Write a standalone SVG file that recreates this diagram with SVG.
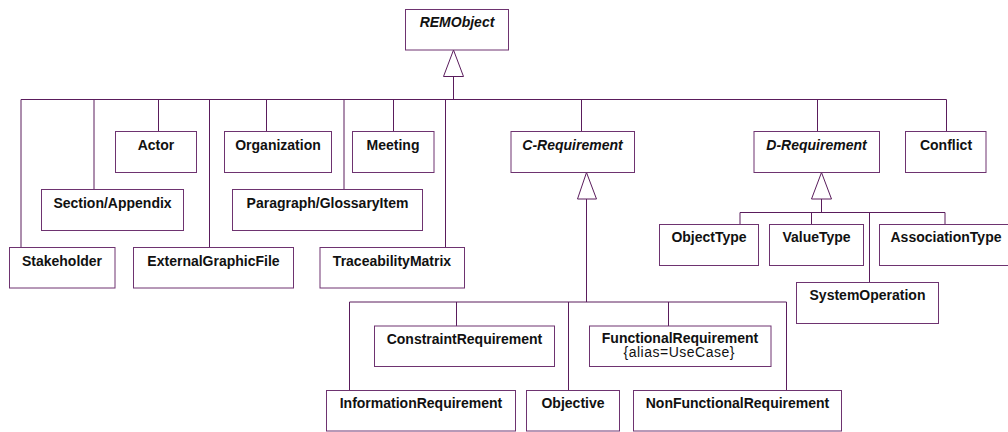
<svg xmlns="http://www.w3.org/2000/svg" width="1008" height="432" viewBox="0 0 1008 432">
<style>
.box{fill:#fff;stroke:#6e3370;stroke-width:1}
.ln{fill:none;stroke:#5a1c5c;stroke-width:1}
.tri{fill:#fff;stroke:#5a1c5c;stroke-width:1}
text{font-family:"Liberation Sans",Arial,sans-serif;font-size:14px;font-weight:bold;fill:#111;text-anchor:middle}
.it{font-style:italic}
.tag{font-weight:normal;font-size:14px}
</style>
<rect width="1008" height="432" fill="#fff"/>
<g id="connectors">
<polygon class="tri" points="453.5,50 443.5,76.5 463.5,76.5"/>
<path class="ln" d="M453.5 76.5V99.5M21 99.5H946.5M21 99.5V247.5M94 99.5V189.5M158.5 99.5V131.5M209.5 99.5V247.5M266.5 99.5V131.5M344 99.5V189.5M393.5 99.5V131.5M445.5 99.5V247.5M581.5 99.5V131.5M817.5 99.5V131.5M946.5 99.5V131.5"/>
<polygon class="tri" points="586.5,172.5 577.5,199 596.5,199"/>
<path class="ln" d="M586.5 199V302M349.5 302H786.5M349.5 302V390.5M456.5 302V326M568.5 302V390.5M668.5 302V326M786.5 302V390.5"/>
<polygon class="tri" points="821.5,172.5 811.5,199 831.5,199"/>
<path class="ln" d="M821.5 199V212.5M740 212.5H945M740 212.5V224.5M811.5 212.5V224.5M869.5 212.5V282.5M945 212.5V224.5"/>
</g>
<g id="REMObject"><rect class="box" x="405.5" y="9.5" width="103" height="40.5"/><text class="it" x="457" y="27">REMObject</text></g>
<g id="Actor"><rect class="box" x="115.5" y="131.5" width="81" height="41"/><text x="156" y="149.5">Actor</text></g>
<g id="Organization"><rect class="box" x="224.5" y="131.5" width="107" height="41"/><text x="278" y="149.5">Organization</text></g>
<g id="Meeting"><rect class="box" x="352.5" y="131.5" width="81.5" height="41"/><text x="393" y="149.5">Meeting</text></g>
<g id="C-Requirement"><rect class="box" x="511" y="131.5" width="123.5" height="41"/><text class="it" x="572.5" y="149.5">C-Requirement</text></g>
<g id="D-Requirement"><rect class="box" x="754" y="131.5" width="125.5" height="41"/><text class="it" x="816.5" y="149.5">D-Requirement</text></g>
<g id="Conflict"><rect class="box" x="905.5" y="131.5" width="80.5" height="41"/><text x="946" y="149.5">Conflict</text></g>
<g id="SectionAppendix"><rect class="box" x="41.5" y="189.5" width="142" height="41"/><text x="112.5" y="207.5">Section/Appendix</text></g>
<g id="ParagraphGlossaryItem"><rect class="box" x="232.5" y="189.5" width="190" height="41"/><text x="327.5" y="207.5">Paragraph/GlossaryItem</text></g>
<g id="Stakeholder"><rect class="box" x="9.5" y="247.5" width="105.5" height="40.5"/><text x="62" y="265.5">Stakeholder</text></g>
<g id="ExternalGraphicFile"><rect class="box" x="133.5" y="247.5" width="160" height="40.5"/><text x="213.5" y="265.5">ExternalGraphicFile</text></g>
<g id="TraceabilityMatrix"><rect class="box" x="320" y="247.5" width="144.5" height="40.5"/><text x="392" y="265.5">TraceabilityMatrix</text></g>
<g id="ObjectType"><rect class="box" x="659.5" y="224.5" width="99" height="41"/><text x="709" y="242">ObjectType</text></g>
<g id="ValueType"><rect class="box" x="769.5" y="224.5" width="94" height="41"/><text x="816.5" y="242">ValueType</text></g>
<g id="AssociationType"><rect class="box" x="879.5" y="224.5" width="133" height="41"/><text x="946" y="242">AssociationType</text></g>
<g id="SystemOperation"><rect class="box" x="796.5" y="282.5" width="142" height="41"/><text x="867.5" y="300">SystemOperation</text></g>
<g id="ConstraintRequirement"><rect class="box" x="374.5" y="326" width="180" height="40.5"/><text x="464.5" y="343.5">ConstraintRequirement</text></g>
<g id="FunctionalRequirement"><rect class="box" x="589.5" y="326" width="181.5" height="40.5"/><text x="680" y="343">FunctionalRequirement</text><text class="tag" x="679" y="357" textLength="111" lengthAdjust="spacing">{alias=UseCase}</text></g>
<g id="InformationRequirement"><rect class="box" x="326.5" y="390.5" width="189" height="40.5"/><text x="421" y="408">InformationRequirement</text></g>
<g id="Objective"><rect class="box" x="526.5" y="390.5" width="93" height="40.5"/><text x="573" y="408">Objective</text></g>
<g id="NonFunctionalRequirement"><rect class="box" x="633.5" y="390.5" width="208" height="40.5"/><text x="737.5" y="408">NonFunctionalRequirement</text></g>
</svg>
